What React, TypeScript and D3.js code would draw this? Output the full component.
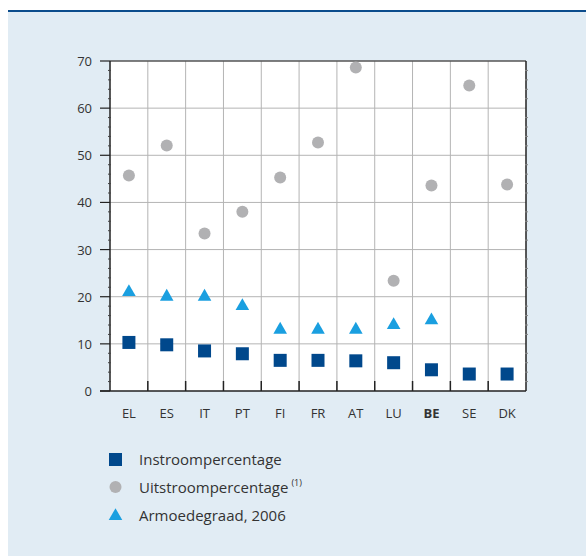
import React from "react";
import * as d3 from "d3";

const categories = ["EL", "ES", "IT", "PT", "FI", "FR", "AT", "LU", "BE", "SE", "DK"];
const instroom = [10.3, 9.8, 8.5, 7.9, 6.5, 6.5, 6.4, 6.0, 4.5, 3.6, 3.6];
const uitstroom = [45.7, 52.1, 33.4, 38.0, 45.3, 52.7, 68.6, 23.4, 43.6, 64.8, 43.8];
const armoede = [21, 20, 20, 18, 13, 13, 13, 14, 15, null, null];
const yTicks = [0, 10, 20, 30, 40, 50, 60, 70];
const legendLabels = ["Instroompercentage", "Uitstroompercentage", "Armoedegraad, 2006"];

const W = 586;
const H = 556;
const M = { left: 110, right: 526, top: 61, bottom: 391 };
const FONT = "'Open Sans', 'Noto Sans', sans-serif";
const C_SQ = "#00488c";
const C_CI = "#b1b1b3";
const C_TR = "#1a9fe0";

export default function App() {
  const x = d3.scaleBand<string>().domain(categories).range([M.left, M.right]).padding(0);
  const y = d3.scaleLinear().domain([0, 70]).range([M.bottom, M.top]);
  const cx = (c: string) => (x(c) as number) + x.bandwidth() / 2;
  const minor = d3.range(0, 71, 2).filter((v) => v % 10 !== 0);
  const tri = d3.symbol().type(d3.symbolTriangle).size(80)();
  const sq = 13;

  return (
    <svg width={W} height={H} style={{ position: "absolute", left: 0, top: 0 }}>
      <rect x={0} y={0} width={W} height={H} fill="#ffffff" />
      <rect x={8} y={11} width={W - 8} height={H - 11} fill="#e1ecf4" />
      <line x1={8} x2={W} y1={11} y2={11} stroke="#0b4c8c" strokeWidth={2} />
      <rect x={M.left} y={M.top} width={M.right - M.left} height={M.bottom - M.top} fill="#ffffff" />
      {/* gridlines */}
      {yTicks.slice(1, -1).map((t) => (
        <line key={"hg" + t} x1={M.left} x2={M.right} y1={y(t)} y2={y(t)} stroke="#b4b4b4" strokeWidth={1} />
      ))}
      {categories.slice(1).map((c) => (
        <line key={"vg" + c} x1={x(c)} x2={x(c)} y1={M.top} y2={M.bottom} stroke="#b4b4b4" strokeWidth={1} />
      ))}
      {/* frame */}
      <line x1={M.left} x2={M.right} y1={M.top} y2={M.top} stroke="#555" strokeWidth={1.5} />
      <line x1={M.right} x2={M.right} y1={M.top} y2={M.bottom} stroke="#222" strokeWidth={1.5} />
      <line x1={M.left} x2={M.left} y1={M.top} y2={M.bottom} stroke="#222" strokeWidth={1.5} />
      <line x1={M.left - 10} x2={M.right} y1={M.bottom} y2={M.bottom} stroke="#222" strokeWidth={1.5} />
      {/* y ticks */}
      {yTicks.map((t) => (
        <g key={"yt" + t}>
          <line x1={M.left - 10} x2={M.left} y1={y(t)} y2={y(t)} stroke="#222" strokeWidth={1.2} />
          <text x={M.left - 18} y={y(t) + 5} textAnchor="end" fontFamily={FONT} fontSize={13} fill="#333">{t}</text>
        </g>
      ))}
      {minor.map((t) => (
        <g key={"mt" + t}>
          <line x1={M.left - 2} x2={M.left + 1} y1={y(t)} y2={y(t)} stroke="#444" strokeWidth={1} />
          <line x1={M.right - 1} x2={M.right + 2} y1={y(t)} y2={y(t)} stroke="#888" strokeWidth={1} />
        </g>
      ))}
      {/* x ticks */}
      {categories.slice(1).map((c) => (
        <line key={"xt" + c} x1={x(c)} x2={x(c)} y1={M.bottom - 10} y2={M.bottom} stroke="#222" strokeWidth={1.5} />
      ))}
      {categories.map((c) => (
        <text key={"xl" + c} x={cx(c)} y={M.bottom + 27} textAnchor="middle" fontFamily={FONT} fontSize={13}
          fontWeight={c === "BE" ? 700 : 400} fill="#333">{c}</text>
      ))}
      {/* markers */}
      {categories.map((c, i) => (
        <circle key={"ci" + c} cx={cx(c)} cy={y(uitstroom[i])} r={6} fill={C_CI} />
      ))}
      {categories.map((c, i) =>
        armoede[i] == null ? null : (
          <path key={"tr" + c} d={tri as string} transform={`translate(${cx(c)},${y(armoede[i] as number)})`} fill={C_TR} />
        )
      )}
      {categories.map((c, i) => (
        <rect key={"sq" + c} x={cx(c) - sq / 2} y={y(instroom[i]) - sq / 2} width={sq} height={sq} fill={C_SQ} />
      ))}
      {/* legend */}
      <g fontFamily={FONT} fontSize={15} fill="#333">
        <rect x={109} y={453} width={13} height={13} fill={C_SQ} />
        <text x={139} y={465}>{legendLabels[0]}</text>
        <circle cx={115.5} cy={487} r={6} fill={C_CI} />
        <text x={139} y={493}>{legendLabels[1]}<tspan fontSize={9} dy={-7} dx={3}>(1)</tspan></text>
        <path d={tri as string} transform="translate(115.5,516)" fill={C_TR} />
        <text x={139} y={521}>{legendLabels[2]}</text>
      </g>
    </svg>
  );
}
